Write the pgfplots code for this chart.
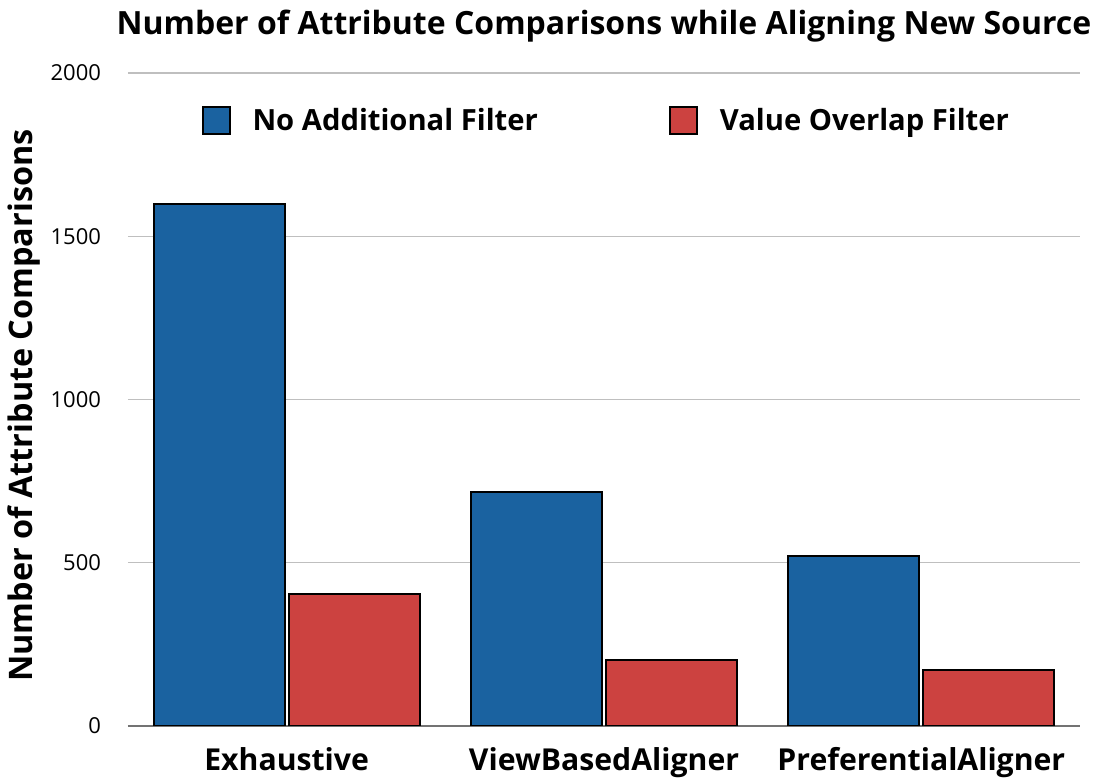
\documentclass[border=0pt]{standalone}
\usepackage{fontspec}
\setmainfont{Open Sans}
\usepackage{pgfplots}
\pgfplotsset{compat=1.18}
\definecolor{cblue}{RGB}{26,98,160}
\definecolor{cred}{RGB}{204,66,64}
\begin{document}
\begin{tikzpicture}
\begin{axis}[
  scale only axis, width=476pt, height=326.5pt,
  at={(0,0)}, anchor=south west,
  xmin=-0.5, xmax=2.5, ymin=0, ymax=2000,
  ybar=2pt, bar width=65.5pt,
  xtick={0,1,2},
  xticklabels={Exhaustive,ViewBasedAligner,PreferentialAligner},
  ytick={0,500,1000,1500,2000},
  /pgf/number format/assume math mode=true,
  /pgf/number format/set thousands separator={},
  ymajorgrids, grid style={black!25, line width=0.7pt},
  major tick length=0pt,
  axis x line*=bottom, axis y line*=left,
  x axis line style={black!55, line width=1pt, -},
  y axis line style={draw=none},
  yticklabel style={font=\fontsize{11}{12}\selectfont, xshift=-10pt},
  xticklabel style={font=\fontsize{15.1}{17}\selectfont\bfseries, yshift=-7pt},
  ylabel={Number of Attribute Comparisons},
  ylabel style={at={(axis description cs:0,0.5)}, anchor=center, yshift=52pt, xshift=-3pt, font=\fontsize{16.2}{18}\selectfont\bfseries},
  title={Number of Attribute Comparisons while Aligning New Source},
  title style={at={(axis description cs:0.5,1)}, anchor=center, yshift=17.5pt, font=\fontsize{16}{18}\selectfont\bfseries},
  legend style={at={(0.0705,0.927)}, anchor=west, draw=none, fill=none,
    legend columns=2, font=\fontsize{14.6}{16}\selectfont\bfseries,
    nodes={inner sep=6pt},
    /tikz/every odd column/.append style={column sep=5pt},
    /tikz/every even column/.append style={column sep=59.5pt}},
  legend image code/.code={\draw[#1, draw=black, line width=1pt] (0pt,-6.75pt) rectangle (13.5pt,6.75pt);},
]
\addplot[fill=cblue, draw=black, line width=1pt] coordinates {(0,1600) (1,717) (2,521)};
\addplot[fill=cred, draw=black, line width=1pt] coordinates {(0,404) (1,202) (2,172)};
\legend{No Additional Filter, Value Overlap Filter}
\end{axis}
\pgfresetboundingbox
\path (-64pt,-26.5pt) rectangle (485pt,363pt);
\end{tikzpicture}
\end{document}
